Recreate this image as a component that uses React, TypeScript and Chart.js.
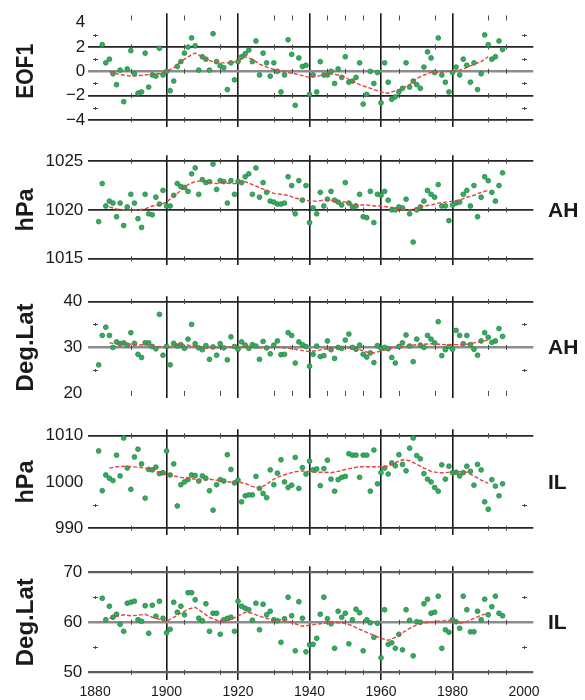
import React, { useEffect, useRef } from "react";
import { Chart, registerables } from "chart.js";

Chart.register(...registerables);

const FONT = "'Liberation Sans', Arial, Helvetica, sans-serif";
const INK = "#1a1a1a";
const GREEN = "#36ad5d";
const GREEN_EDGE = "#22874a";
const RED = "#e2453f";

// Annual observations
const years = [
  1881, 1882, 1883, 1884, 1885, 1886, 1887, 1888, 1889, 1890,
  1891, 1892, 1893, 1894, 1895, 1896, 1897, 1898, 1899, 1900,
  1901, 1902, 1903, 1904, 1905, 1906, 1907, 1908, 1909, 1910,
  1911, 1912, 1913, 1914, 1915, 1916, 1917, 1918, 1919, 1920,
  1921, 1922, 1923, 1924, 1925, 1926, 1927, 1928, 1929, 1930,
  1931, 1932, 1933, 1934, 1935, 1936, 1937, 1938, 1939, 1940,
  1941, 1942, 1943, 1944, 1945, 1946, 1947, 1948, 1949, 1950,
  1951, 1952, 1953, 1954, 1955, 1956, 1957, 1958, 1959, 1960,
  1961, 1962, 1963, 1964, 1965, 1966, 1967, 1968, 1969, 1970,
  1971, 1972, 1973, 1974, 1975, 1976, 1977, 1978, 1979, 1980,
  1981, 1982, 1983, 1984, 1985, 1986, 1987, 1988, 1989, 1990,
  1991, 1992, 1993, 1994,
];

const eof1Values = [
  null, 2.2, 0.7, 1.0, -0.2, -1.1, 0.1, -2.5, 0.2, 1.7,
  -0.2, -1.8, -1.7, 1.5, -1.3, -0.3, -0.4, 1.9, -0.3, 0.0,
  -1.6, -0.8, 0.4, 0.8, 1.5, 2.0, 2.75, 2.1, 0.1, 1.2,
  1.0, 0.1, 3.1, 0.8, 0.45, 0.3, -1.5, 0.7, -0.7, 0.8,
  1.2, 1.45, 1.75, 0.8, 2.5, -0.3, 1.5, 0.7, -0.4, 0.7,
  0.0, -1.7, -0.3, 2.6, 1.4, -2.8, 1.1, 0.4, 0.5, -1.9,
  -0.3, -1.7, 0.8, -0.3, -0.3, 0.0, -1.0, 0.2, -0.5, 1.2,
  -0.9, -0.8, -0.5, 0.7, -2.7, -1.9, 0.0, -1.0, -0.1, -2.6,
  0.7, -0.9, -2.3, -2.1, -1.7, -1.4, 0.7, -1.3, -0.8, -1.1,
  -1.4, 0.35, 1.6, 1.1, -0.1, 2.75, -0.3, -0.9, -1.7, -0.1,
  0.35, -0.3, 1.0, 0.5, -0.9, 0.7, -1.5, -0.2, 3.0, 2.2,
  1.0, 1.2, 2.5, 1.8,
];

const ahPressure = [
  1018.8, 1022.7, 1020.4, 1020.9, 1020.7, 1019.3, 1020.7, 1018.4, 1020.3, 1021.6,
  1020.7, 1019.1, 1018.2, 1021.6, 1019.6, 1019.5, 1021.3, 1020.6, 1022.0, 1020.4,
  1020.4, 1021.5, 1022.7, 1022.4, 1022.3, 1021.9, 1023.7, 1024.3, 1021.6, 1023.1,
  1022.8, 1022.9, 1024.7, 1022.1, 1023.0, 1022.9, 1020.7, 1023.0, 1021.6, 1022.9,
  1022.8, 1023.4, 1023.7, 1021.6, 1024.3, 1021.3, 1022.8, 1021.8, 1020.9, 1020.8,
  1020.6, 1020.6, 1020.7, 1023.4, 1022.5, 1019.6, 1023.0, 1021.0, 1022.5, 1018.7,
  1020.2, 1019.6, 1021.8, 1020.4, 1021.1, 1021.9, 1021.0, 1020.8, 1020.5, 1022.8,
  1020.7, 1020.3, 1020.4, 1021.6, 1019.3, 1019.2, 1021.9, 1018.7, 1021.6, 1021.5,
  1021.9, 1021.0, 1020.0, 1020.0, 1020.3, 1020.2, 1021.1, 1019.6, 1016.7, 1020.0,
  1020.3, 1020.9, 1022.0, 1021.6, 1021.3, 1022.6, 1020.4, 1020.4, 1018.9, 1020.5,
  1020.7, 1020.8, 1021.6, 1022.0, 1020.4, 1022.5, 1019.3, 1021.3, 1023.4, 1023.0,
  1021.8, 1020.9, 1022.5, 1023.8,
];

const ahLatitude = [
  26.2, 32.6, 34.4, 32.6, 30.0, 31.2, 30.8, 31.0, 30.5, 33.2,
  30.9, 28.5, 27.8, 31.0, 31.0, 30.2, 29.7, 37.2, 28.3, 30.2,
  26.2, 30.9, 30.3, 30.6, 29.8, 31.8, 35.0, 30.8, 29.9, 29.5,
  30.4, 27.4, 30.1, 28.3, 30.8, 29.9, 27.3, 32.3, 30.2, 29.6,
  31.2, 30.5, 29.8, 30.6, 30.3, 27.4, 31.3, 29.9, 28.6, 30.5,
  31.4, 28.4, 28.5, 33.2, 32.6, 26.6, 31.2, 30.6, 30.2, 25.9,
  28.5, 30.3, 28.0, 28.2, 31.4, 29.5, 27.6, 30.0, 29.8, 31.6,
  32.9, 30.0, 29.6, 30.5, 28.5, 27.9, 28.8, 26.7, 30.4, 29.8,
  30.0, 29.7, 27.8, 26.6, 30.2, 31.0, 32.7, 30.3, 26.9, 31.8,
  30.5, 30.0, 32.6, 31.8, 31.0, 35.6, 28.2, 29.5, 30.2, 29.6,
  33.7, 32.6, 30.8, 32.6, 30.6, 29.6, 28.3, 31.4, 33.2, 32.2,
  31.1, 31.4, 34.1, 32.4,
];

const ilPressure = [
  1006.7, 998.1, 1001.5, 1000.8, 1000.3, 1005.8, 1001.3, 1009.5, 1003.0, 998.4,
  1005.4, 1007.1, 1003.9, 996.5, 1002.7, 1002.6, 1003.2, 1001.8, 1002.0, 1006.7,
  1001.5, 1003.9, 994.8, 999.4, 1000.0, 1000.5, 1001.5, 1001.4, 1000.2, 1001.3,
  1000.8, 998.1, 993.9, 999.4, 1000.5, 1000.2, 1005.9, 1002.7, 999.8, 1000.4,
  995.7, 997.0, 997.2, 997.2, 1001.2, 998.6, 997.5, 996.6, 1002.6, 999.4,
  1001.9, 1004.8, 1000.0, 998.8, 999.3, 1005.3, 998.6, 1003.1, 1001.7, 1004.5,
  1002.6, 1002.8, 999.2, 1002.9, 1004.7, 1000.6, 998.0, 1000.5, 1001.0, 1001.2,
  1006.1, 1005.8, 1005.8, 1001.0, 1005.8, 1005.8, 998.0, 1006.9, 999.6, 1002.0,
  1003.0, 1001.7, 1004.1, 1003.5, 1005.9, 1003.8, 1002.4, 1007.3, 1009.5, 1005.7,
  1005.0, 1001.8, 1000.6, 1000.0, 998.8, 998.0, 1003.7, 1000.6, 1003.4, 1002.0,
  1002.1, 1001.3, 1002.0, 1003.4, 1002.3, 999.3, 1003.8, 1002.6, 995.7, 994.1,
  1000.5, 999.1, 997.0, 999.6,
];

const ilLatitude = [
  null, 64.8, 60.5, 63.2, 61.0, 61.6, 59.6, 58.2, 63.8, 64.0,
  64.2, 60.5, 60.2, 63.3, 57.8, 63.4, 61.2, 64.2, 60.8, 57.9,
  58.6, 64.0, 62.0, 63.2, 61.5, 65.9, 65.9, 64.5, 60.8, 60.3,
  63.7, 58.2, 61.8, 61.8, 57.6, 60.5, 60.8, 61.0, 58.2, 64.2,
  63.2, 62.8, 62.5, 60.4, 63.8, 58.5, 63.6, 61.5, 62.2, 60.5,
  60.3, 56.0, 60.7, 65.0, 61.3, 54.3, 64.1, 60.8, 54.1, 55.5,
  55.6, 56.8, 61.6, 65.0, 60.7, 59.7, 54.8, 62.2, 61.0, 61.8,
  55.7, 60.5, 62.6, 61.9, 54.3, 60.5, 59.9, 57.0, 59.8, 52.9,
  62.5, 55.6, 55.9, 54.8, 57.6, 54.5, 62.5, 60.4, 53.3, 60.1,
  60.0, 63.7, 64.6, 61.8, 62.0, 65.2, 54.8, 58.5, 58.0, 60.5,
  60.1, 58.8, 65.2, 62.5, 58.1, 58.1, 62.2, 60.5, 64.6, 61.5,
  63.1, 65.2, 61.8, 61.3,
];

// Running-mean curves
const trendYears = [
  1884, 1886, 1888, 1890, 1892, 1894, 1896, 1898, 1900, 1902,
  1904, 1906, 1908, 1910, 1912, 1914, 1916, 1918, 1920, 1922,
  1924, 1926, 1928, 1930, 1932, 1934, 1936, 1938, 1940, 1942,
  1944, 1946, 1948, 1950, 1952, 1954, 1956, 1958, 1960, 1962,
  1964, 1966, 1968, 1970, 1972, 1974, 1976, 1978, 1980, 1982,
  1984, 1986, 1988, 1990,
];

const eof1Trend = [
  0.0, -0.2, -0.3, -0.4, -0.35, -0.3, -0.2, -0.2, 0.0, 0.3,
  0.8, 1.2, 1.5, 1.2, 0.9, 0.7, 0.7, 0.7, 0.85, 1.2,
  1.0, 0.6, 0.35, 0.15, 0.0, -0.1, -0.2, -0.35, -0.5, -0.4,
  -0.3, -0.2, -0.3, -0.5, -0.8, -1.1, -1.3, -1.5, -1.7, -1.8,
  -1.6, -1.4, -1.1, -0.6, -0.3, -0.1, -0.1, 0.0, 0.0, 0.1,
  0.3, 0.6, 0.8, 1.2,
];

const ahPressureTrend = [
  1020.3, 1020.1, 1020.0, 1020.0, 1020.0, 1020.1, 1020.4, 1020.5, 1020.8, 1021.4,
  1022.0, 1022.6, 1022.9, 1023.0, 1022.8, 1022.7, 1022.8, 1022.7, 1022.7, 1022.9,
  1022.6, 1022.3, 1022.0, 1021.7, 1021.6, 1021.5, 1021.2, 1021.1, 1020.9, 1020.9,
  1021.0, 1021.0, 1020.9, 1020.8, 1020.6, 1020.5, 1020.5, 1020.4, 1020.4, 1020.3,
  1020.2, 1020.1, 1020.0, 1020.2, 1020.4, 1020.5, 1020.7, 1020.8, 1020.9, 1021.0,
  1021.3, 1021.5, 1021.8, 1022.0,
];

const ahLatitudeTrend = [
  31.0, 30.8, 30.9, 30.7, 30.5, 30.6, 30.3, 30.1, 30.0, 30.4,
  30.6, 30.5, 30.2, 30.0, 29.8, 29.9, 30.0, 30.1, 30.0, 30.2,
  30.0, 29.9, 29.9, 30.0, 30.0, 29.8, 29.6, 29.3, 29.1, 29.3,
  29.6, 29.8, 30.0, 30.0, 29.8, 29.5, 29.0, 28.8, 29.2, 29.6,
  29.9, 30.2, 30.4, 30.6, 30.7, 30.8, 30.7, 30.6, 30.6, 30.6,
  30.7, 31.0, 31.3, 31.6,
];

const ilPressureTrend = [
  1003.0, 1003.3, 1003.4, 1003.3, 1003.2, 1003.0, 1002.6, 1002.0, 1001.6, 1001.3,
  1001.0, 1000.8, 1000.6, 1000.4, 1000.6, 1000.4, 1000.1, 1000.0, 1000.0, 999.7,
  999.0, 998.7, 999.5, 1000.6, 1001.3, 1001.8, 1002.2, 1002.4, 1002.2, 1002.1,
  1002.1, 1002.0, 1002.3, 1002.7, 1003.0, 1003.3, 1003.3, 1003.3, 1003.3, 1003.4,
  1004.2, 1004.8, 1004.6, 1003.8, 1003.0, 1002.3, 1002.0, 1002.0, 1002.2, 1002.2,
  1002.1, 1001.3, 1000.4, 999.7,
];

const ilLatitudeTrend = [
  60.8, 61.2, 61.5, 61.3, 61.4, 61.6, 61.0, 60.6, 60.2, 61.0,
  61.8, 62.6, 63.0, 62.0, 61.0, 60.4, 60.3, 60.5, 61.3, 62.0,
  61.8, 61.2, 60.8, 60.4, 60.5, 60.2, 59.7, 59.2, 59.4, 59.6,
  59.8, 60.0, 59.9, 59.8, 59.3, 58.6, 58.0, 57.4, 56.8, 56.4,
  57.0, 57.9, 58.8, 59.5, 59.9, 60.0, 60.2, 60.3, 60.5, 59.8,
  60.1, 60.8, 61.4, 61.8,
];

// Axis ticks
const yearTicks = [1880, 1900, 1920, 1940, 1960, 1980, 2000];
const minorYears = [1890, 1905, 1915, 1930, 1935, 1945, 1950, 1955, 1965, 1975, 1990, 1995];
const frameYears = [1880, 2000];

const eof1Ticks = [-4, -2, 0, 2, 4];
const ahPressureTicks = [1015, 1020, 1025];
const ahLatitudeTicks = [20, 30, 40];
const ilPressureTicks = [990, 1000, 1010];
const ilLatitudeTicks = [50, 60, 70];

type LineStyle = { color: string; width: number };
const DARK: LineStyle = { color: "#262626", width: 1.8 };
const GREY: LineStyle = { color: "#8c8c8c", width: 2.6 };
const MID: LineStyle = { color: "#5e5e5e", width: 2.2 };
const NONE: LineStyle = { color: "rgba(0,0,0,0)", width: 0 };

interface PanelSpec {
  title: string;
  titleLength: number;
  side: string;
  values: (number | null)[];
  trend: number[];
  ticks: number[];
  lines: Record<string, LineStyle>;
  minorValues: number[];
  markRows: number[];
  min: number;
  max: number;
  mid: number;
  top: number;
  height: number;
  padTop: number;
  padBottom: number;
  labelPad: number;
  showYears: boolean;
}

const panels: PanelSpec[] = [
  {
    title: "EOF1", titleLength: 55, side: "",
    values: eof1Values, trend: eof1Trend, ticks: eof1Ticks,
    lines: { "2": DARK, "0": GREY, "-2": DARK, "-4": DARK },
    minorValues: [3, 1, -1, -3], markRows: [4.4, 2, 0, -2, -4],
    min: -4.57, max: 4.79, mid: 0,
    top: 0, height: 140, padTop: 12, padBottom: 3.3, labelPad: 3, showYears: false,
  },
  {
    title: "hPa", titleLength: 43, side: "AH",
    values: ahPressure, trend: ahPressureTrend, ticks: ahPressureTicks,
    lines: { "1015": DARK, "1020": DARK, "1025": DARK },
    minorValues: [], markRows: [1015, 1020, 1025],
    min: 1014.37, max: 1025.61, mid: 1020,
    top: 140, height: 140, padTop: 9, padBottom: 7, labelPad: 5, showYears: false,
  },
  {
    title: "Deg.Lat", titleLength: 88, side: "AH",
    values: ahLatitude, trend: ahLatitudeTrend, ticks: ahLatitudeTicks,
    lines: { "40": DARK, "30": GREY },
    minorValues: [35, 25], markRows: [20, 30, 40],
    min: 19.03, max: 41.15, mid: 30,
    top: 280, height: 134, padTop: 7, padBottom: 6, labelPad: 6, showYears: false,
  },
  {
    title: "hPa", titleLength: 43, side: "IL",
    values: ilPressure, trend: ilPressureTrend, ticks: ilPressureTicks,
    lines: { "1010": DARK, "990": DARK },
    minorValues: [995], markRows: [990, 1010],
    min: 988.57, max: 1011.41, mid: 1000,
    top: 414, height: 136, padTop: 5, padBottom: 6.5, labelPad: 5, showYears: false,
  },
  {
    title: "Deg.Lat", titleLength: 88, side: "IL",
    values: ilLatitude, trend: ilLatitudeTrend, ticks: ilLatitudeTicks,
    lines: { "70": MID, "60": GREY, "50": MID },
    minorValues: [65, 55], markRows: [50, 60, 70],
    min: 48.47, max: 71.2, mid: 60,
    top: 550, height: 150, padTop: 7, padBottom: 0, labelPad: 6, showYears: true,
  },
];

const PLOT_LEFT = 88.3;
const PLOT_RIGHT = 533.3;
const WIDTH = 585;

function formatTick(v: number | string): string {
  return String(v).replace("-", "\u2212");
}

function PanelChart({ spec }: { spec: PanelSpec }) {
  const ref = useRef<HTMLCanvasElement>(null);

  useEffect(() => {
    const canvas = ref.current;
    if (!canvas) return;

    const points = years
      .map((x, i) => ({ x, y: spec.values[i] }))
      .filter((p) => p.y !== null) as { x: number; y: number }[];
    const trendPoints = trendYears.map((x, i) => ({ x, y: spec.trend[i] }));

    const lineStyle = (c: any): LineStyle => {
      const v = c && c.tick ? c.tick.value : null;
      if (v === null) return NONE;
      return spec.lines[String(v)] || NONE;
    };

    const decor = {
      id: "panelDecor",
      beforeDatasetsDraw(chart: any) {
        const { ctx } = chart;
        const xs = chart.scales.x;
        const ys = chart.scales.y;
        ctx.save();
        ctx.strokeStyle = "#4a4a4a";
        ctx.lineWidth = 1;
        ctx.beginPath();
        for (const row of spec.markRows) {
          const py = ys.getPixelForValue(row);
          for (const yr of minorYears) {
            const px = Math.round(xs.getPixelForValue(yr)) + 0.5;
            ctx.moveTo(px, py - 2.5);
            ctx.lineTo(px, py + 2.5);
          }
        }
        for (const v of spec.minorValues) {
          const py = Math.round(ys.getPixelForValue(v)) + 0.5;
          for (const yr of frameYears) {
            const px = Math.round(xs.getPixelForValue(yr)) + 0.5;
            ctx.moveTo(px - 2.5, py);
            ctx.lineTo(px + 2.5, py);
            ctx.moveTo(px, py - 1.5);
            ctx.lineTo(px, py + 1.5);
          }
        }
        ctx.stroke();
        ctx.restore();
      },
      afterDraw(chart: any) {
        const { ctx } = chart;
        const ys = chart.scales.y;
        const yMid = ys.getPixelForValue(spec.mid);
        ctx.save();
        ctx.fillStyle = INK;
        ctx.translate(27, yMid);
        ctx.rotate(-Math.PI / 2);
        ctx.font = `bold 23px ${FONT}`;
        const w = ctx.measureText(spec.title).width;
        ctx.scale(spec.titleLength / w, 1);
        ctx.textAlign = "center";
        ctx.textBaseline = "middle";
        ctx.fillText(spec.title, 0, 0);
        ctx.restore();
        if (spec.side) {
          ctx.save();
          ctx.fillStyle = INK;
          ctx.font = `bold 21px ${FONT}`;
          ctx.textAlign = "left";
          ctx.textBaseline = "middle";
          ctx.fillText(spec.side, 548, yMid + 1);
          ctx.restore();
        }
      },
    };

    const chart = new Chart(canvas, {
      type: "scatter",
      data: {
        datasets: [
          {
            type: "line",
            data: trendPoints,
            borderColor: RED,
            borderWidth: 1.4,
            borderDash: [4, 2],
            pointRadius: 0,
            fill: false,
            tension: 0,
          } as any,
          {
            type: "scatter",
            data: points,
            pointRadius: 2.4,
            pointStyle: "circle",
            backgroundColor: GREEN,
            borderColor: GREEN_EDGE,
            borderWidth: 0.8,
          } as any,
        ],
      },
      options: {
        animation: false,
        responsive: false,
        devicePixelRatio: 1,
        events: [],
        layout: {
          padding: {
            top: spec.padTop,
            bottom: spec.padBottom,
            left: 0,
            right: WIDTH - PLOT_RIGHT,
          },
        },
        plugins: {
          legend: { display: false },
          tooltip: { enabled: false },
        },
        scales: {
          x: {
            type: "linear",
            min: 1878.1,
            max: 2002.6,
            afterBuildTicks: (s: any) => {
              s.ticks = yearTicks.map((value) => ({ value }));
            },
            afterFit: (s: any) => {
              s.height = spec.showYears ? 20 : 0;
            },
            grid: {
              color: (c: any) =>
                c.tick && (c.tick.value === 1880 || c.tick.value === 2000)
                  ? "rgba(0,0,0,0)"
                  : INK,
              lineWidth: 1.6,
              drawTicks: false,
            },
            border: { display: false },
            ticks: {
              display: spec.showYears,
              autoSkip: false,
              maxRotation: 0,
              padding: 4,
              color: INK,
              font: { family: FONT, size: 14 },
              callback: (v: any) => String(v),
            },
          },
          y: {
            type: "linear",
            min: spec.min,
            max: spec.max,
            afterBuildTicks: (s: any) => {
              s.ticks = spec.ticks.map((value) => ({ value }));
            },
            afterFit: (s: any) => {
              s.width = PLOT_LEFT;
            },
            grid: {
              color: (c: any) => lineStyle(c).color,
              lineWidth: (c: any) => lineStyle(c).width,
              drawTicks: false,
            },
            border: { display: false },
            ticks: {
              autoSkip: false,
              padding: spec.labelPad,
              color: INK,
              font: { family: FONT, size: 17 },
              callback: (v: any) => formatTick(v),
            },
          },
        },
      } as any,
      plugins: [decor],
    });

    return () => chart.destroy();
  }, [spec]);

  return (
    <canvas
      ref={ref}
      width={WIDTH}
      height={spec.height}
      style={{
        position: "absolute",
        left: 0,
        top: spec.top,
        width: WIDTH,
        height: spec.height,
        display: "block",
      }}
    />
  );
}

export default function App() {
  return (
    <div
      style={{
        position: "fixed",
        left: 0,
        top: 0,
        width: WIDTH,
        height: 700,
        background: "#ffffff",
        overflow: "hidden",
      }}
    >
      {panels.map((p, i) => (
        <PanelChart key={i} spec={p} />
      ))}
    </div>
  );
}
